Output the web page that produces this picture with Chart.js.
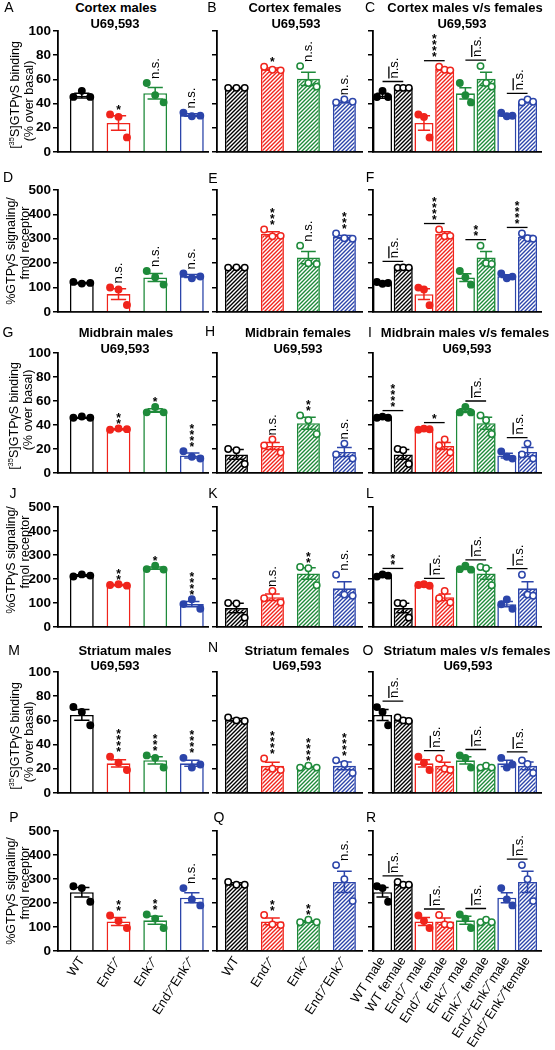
<!DOCTYPE html>
<html lang="en">
<head>
<meta charset="utf-8">
<script src="https://cdn.jsdelivr.net/npm/chart.js@4.4.1/dist/chart.umd.min.js"></script>
<style>
  body { margin: 0; background: #fff; }
  #fig { position: relative; width: 555px; height: 1050px; overflow: hidden;
         font-family: "Liberation Sans", Arial, sans-serif; color: #000; }
  #fig canvas { position: absolute; }
  .lbl { position: absolute; white-space: nowrap; line-height: 1; transform: translate(-50%, -50%); }
  .ttl { font-size: 13px; font-weight: bold; }
  .let { font-size: 14px; }
  .ytl { font-size: 12.5px; transform: translate(-50%, -50%) rotate(-90deg); }
  .ytl sup { font-size: 7.5px; }
</style>
</head>
<body>
<div id="fig"></div>
<script>
// categories
const genotypes = ['WT', 'End⁻⁄⁻', 'Enk⁻⁄⁻', 'End⁻⁄⁻Enk⁻⁄⁻'];
const sexLabels = ['WT male', 'WT female', 'End⁻⁄⁻ male', 'End⁻⁄⁻ female',
                   'Enk⁻⁄⁻ male', 'Enk⁻⁄⁻ female', 'End⁻⁄⁻Enk⁻⁄⁻male', 'End⁻⁄⁻Enk⁻⁄⁻female'];
const colours = ['#000000', '#f0241c', '#1e8a3a', '#2c45aa'];

// y tick labels
const bindTicks = [0, 20, 40, 60, 80, 100];
const signalTicks = [0, 100, 200, 300, 400, 500];

// cortex, [35S]GTPyS binding
const cortexBindMaleMean = [46.5, 24, 48.5, 30.5];
const cortexBindMaleSem = [2, 6, 4.7, 1];
const cortexBindMalePts = [[45.5, 50.5, 45.5], [31, 29, 12], [57, 47, 41], [32.5, 29.5, 30]];
const cortexBindFemaleMean = [53, 68.5, 60.5, 41.5];
const cortexBindFemaleSem = [0.3, 1, 5.5, 0.7];
const cortexBindFemalePts = [[53, 53, 53], [70.5, 68, 67.5], [71, 57, 54], [41, 43.5, 41.5]];
const cortexBindMaleSig = ['', '*', 'n.s.', 'n.s.'];
const cortexBindFemaleSig = ['', '*', 'n.s.', 'n.s.'];
const cortexBindSexSig = ['n.s.', '****', 'n.s.', 'n.s.'];

// cortex, %GTPyS signaling / fmol receptor
const cortexSigMaleMean = [119, 73, 141, 147];
const cortexSigMaleSem = [2, 22, 16, 6];
const cortexSigMalePts = [[123, 116, 119], [100, 92, 28], [168, 142, 112], [158, 138, 145]];
const cortexSigFemaleMean = [182, 320, 223, 308];
const cortexSigFemaleSem = [1, 9, 25, 6];
const cortexSigFemalePts = [[182, 183, 182], [338, 310, 312], [272, 200, 197], [322, 302, 300]];
const cortexSigMaleSig = ['', 'n.s.', 'n.s.', 'n.s.'];
const cortexSigFemaleSig = ['', '***', 'n.s.', '***'];
const cortexSigSexSig = ['n.s.', '****', '**', '****'];

// midbrain, binding
const midBindMaleMean = [46, 36.5, 52, 14.5];
const midBindMaleSem = [0.3, 0.3, 1.5, 2];
const midBindMalePts = [[46, 47, 46], [36, 37, 36.5], [50.5, 55, 50.5], [18, 13.5, 12]];
const midBindFemaleMean = [15.5, 22.5, 41.5, 17.5];
const midBindFemaleSem = [4, 3, 5, 3.8];
const midBindFemalePts = [[20, 19, 7.5], [23, 28, 17], [48, 44, 32.5], [15.5, 24.5, 12]];
const midBindMaleSig = ['', '**', '*', '****'];
const midBindFemaleSig = ['', 'n.s.', '**', 'n.s.'];
const midBindSexSig = ['****', '*', 'n.s.', 'n.s.'];

// midbrain, signaling
const midSigMaleMean = [214, 175, 245, 95];
const midSigMaleSem = [3, 2, 5, 11];
const midSigMalePts = [[210, 219, 214], [175, 178, 172], [241, 255, 239], [95, 115, 76]];
const midSigFemaleMean = [79, 124, 223, 161];
const midSigFemaleSem = [20, 14, 24, 28];
const midSigFemalePts = [[100, 98, 39], [120, 150, 102], [250, 245, 174], [218, 135, 130]];
const midSigMaleSig = ['', '**', '*', '****'];
const midSigFemaleSig = ['', 'n.s.', '**', 'n.s.'];
const midSigSexSig = ['**', 'n.s.', 'n.s.', 'n.s.'];

// striatum, binding
const strBindMaleMean = [64.5, 24.5, 27, 24.5];
const strBindMaleSem = [4.5, 3, 3, 2.5];
const strBindMalePts = [[71, 67, 56], [30, 25, 19], [31, 29, 21], [29, 21, 23.5]];
const strBindFemaleMean = [60.5, 22.5, 21.5, 22.5];
const strBindFemaleSem = [1, 3, 0.5, 3.2];
const strBindFemalePts = [[62.5, 60, 59.5], [28.5, 20, 19], [21, 22.5, 21], [27, 24, 16.5]];
const strBindMaleSig = ['', '****', '***', '****'];
const strBindFemaleSig = ['', '****', '****', '****'];
const strBindSexSig = ['n.s.', 'n.s.', 'n.s.', 'n.s.'];

// striatum, signaling
const strSigMaleMean = [245, 123, 128, 222];
const strSigMaleSem = [20, 17, 17, 21];
const strSigMalePts = [[270, 262, 205], [148, 125, 96], [152, 135, 96], [262, 215, 190]];
const strSigFemaleMean = [280, 123, 123, 288];
const strSigFemaleSem = [4, 14, 3.5, 44];
const strSigFemalePts = [[288, 276, 276], [150, 111, 108], [120, 130, 120], [358, 299, 208]];
const strSigMaleSig = ['', '**', '**', 'n.s.'];
const strSigFemaleSig = ['', '**', '**', 'n.s.'];
const strSigSexSig = ['n.s.', 'n.s.', 'n.s.', 'n.s.'];

const FONT = '"Liberation Sans", Arial, sans-serif';
const fig = document.getElementById('fig');

// panel geometry
const cols = [
  {left: 58, right: 208, xmin: -0.65, xmax: 3.44, barPct: 0.65, jit: 0.23},
  {left: 217, right: 362, xmin: -0.54, xmax: 3.49, barPct: 0.64, jit: 0.23},
  {left: 373, right: 541, xmin: -0.46, xmax: 7.65, barPct: 0.92, jit: 0.27}
];
const AXW = 45, PADT = 14, PADR = 14;

function hatch(colour) {
  const c = document.createElement('canvas');
  c.width = 4; c.height = 4;
  const g = c.getContext('2d');
  g.fillStyle = '#fff'; g.fillRect(0, 0, 4, 4);
  g.strokeStyle = colour; g.lineWidth = 1.4;
  g.beginPath();
  g.moveTo(-1, 5); g.lineTo(5, -1);
  g.moveTo(-1, 1); g.lineTo(1, -1);
  g.moveTo(3, 5); g.lineTo(5, 3);
  g.stroke();
  return g.createPattern(c, 'repeat');
}

function peak(b) { return Math.max(b.mean + b.sem, ...b.pts); }

function drawSig(ctx, s, x, yb) {
  ctx.save();
  ctx.fillStyle = '#000';
  if (s[0] === '*') {
    ctx.font = 'bold 12px ' + FONT;
    ctx.textAlign = 'center';
    ctx.textBaseline = 'alphabetic';
    const m = ctx.measureText('*');
    const dy = (m.actualBoundingBoxAscent - m.actualBoundingBoxDescent) / 2;
    for (let k = 0; k < s.length; k++) ctx.fillText('*', x, yb - 3 - k * 6 + dy);
  } else {
    ctx.font = '13px ' + FONT;
    ctx.translate(x, yb);
    ctx.rotate(-Math.PI / 2);
    ctx.textAlign = 'left';
    ctx.textBaseline = 'alphabetic';
    const m = ctx.measureText(s);
    ctx.fillText(s, 0, (m.actualBoundingBoxAscent - m.actualBoundingBoxDescent) / 2);
  }
  ctx.restore();
}

function marks(bars, sig, paired) {
  return {
    id: 'marks',
    afterDatasetDraw(chart, args) {
      if (args.index !== 0) return;
      const ctx = chart.ctx, y = chart.scales.y;
      args.meta.data.forEach((el, i) => {
        const b = bars[i];
        const hi = y.getPixelForValue(b.mean + b.sem), lo = y.getPixelForValue(b.mean - b.sem);
        const cap = el.width * 0.32;
        ctx.save();
        ctx.strokeStyle = b.colour; ctx.lineWidth = 1.5;
        ctx.beginPath();
        ctx.moveTo(el.x, hi); ctx.lineTo(el.x, lo);
        ctx.moveTo(el.x - cap, hi); ctx.lineTo(el.x + cap, hi);
        ctx.moveTo(el.x - cap, lo); ctx.lineTo(el.x + cap, lo);
        ctx.stroke();
        ctx.restore();
      });
    },
    afterDatasetsDraw(chart) {
      const ctx = chart.ctx, y = chart.scales.y;
      const els = chart.getDatasetMeta(0).data;
      if (!paired) {
        sig.forEach((s, i) => {
          if (s) drawSig(ctx, s, els[i].x, y.getPixelForValue(peak(bars[i])) - 4);
        });
        return;
      }
      sig.forEach((s, p) => {
        const a = 2 * p, c = 2 * p + 1;
        const yl = y.getPixelForValue(Math.max(peak(bars[a]), peak(bars[c]))) - 6;
        const xm = (els[a].x + els[c].x) / 2;
        ctx.save();
        ctx.strokeStyle = '#000'; ctx.lineWidth = 1.3;
        ctx.beginPath();
        ctx.moveTo(els[a].x, yl); ctx.lineTo(els[c].x, yl);
        if (s === 'n.s.') { ctx.moveTo(xm - 4, yl - 3); ctx.lineTo(xm - 4, yl - 15); }
        ctx.stroke();
        ctx.restore();
        drawSig(ctx, s, s === 'n.s.' ? xm + 2 : xm, yl - 3);
      });
    }
  };
}

function makeChart(col, geo, yTicks, bars, labels, sig, paired, showY, showX) {
  const plotW = col.right - col.left, plotH = geo.bottom - geo.top;
  const xh = showX ? 100 : 10;
  const w = AXW + plotW + PADR, h = PADT + plotH + xh;
  const cv = document.createElement('canvas');
  cv.width = w; cv.height = h;
  cv.style.left = (col.left - AXW) + 'px';
  cv.style.top = (geo.top - PADT) + 'px';
  cv.style.width = w + 'px'; cv.style.height = h + 'px';
  fig.appendChild(cv);

  const offs = [-col.jit, 0, col.jit];
  const dots = [], dotFill = [], dotLine = [];
  bars.forEach((b, i) => b.pts.forEach((v, k) => {
    dots.push({x: i + offs[k], y: v});
    dotFill.push(b.female ? '#ffffff' : b.colour);
    dotLine.push(b.colour);
  }));

  new Chart(cv, {
    type: 'bar',
    data: {
      datasets: [{
        type: 'bar',
        data: bars.map((b, i) => ({x: i, y: b.mean})),
        backgroundColor: bars.map(b => b.female ? hatch(b.colour) : '#ffffff'),
        borderColor: bars.map(b => b.colour),
        borderWidth: 1.6,
        barPercentage: col.barPct,
        categoryPercentage: 1,
        order: 2
      }, {
        type: 'line',
        data: dots,
        showLine: false,
        pointRadius: 3.2,
        pointBorderWidth: 1.5,
        pointBackgroundColor: dotFill,
        pointBorderColor: dotLine,
        order: 1
      }]
    },
    options: {
      responsive: false,
      animation: false,
      events: [],
      layout: {padding: {top: PADT, right: PADR, left: 0, bottom: 0}},
      plugins: {legend: {display: false}, tooltip: {enabled: false}},
      scales: {
        x: {
          type: 'linear', offset: false, bounds: 'data', min: col.xmin, max: col.xmax,
          afterBuildTicks: s => { s.ticks = labels.map((_, i) => ({value: i})); },
          afterFit: s => { s.height = xh; },
          ticks: {display: showX, autoSkip: false, minRotation: 57, maxRotation: 57,
                  callback: (v, i) => labels[i], color: '#000',
                  font: {family: FONT, size: 13}, padding: 3},
          grid: {display: false, drawTicks: false, offset: false},
          border: {color: '#000', width: 1.8}
        },
        y: {
          type: 'linear', bounds: 'data', min: 0, max: yTicks[yTicks.length - 1],
          afterBuildTicks: s => { s.ticks = yTicks.map(v => ({value: v})); },
          afterFit: s => { s.width = AXW; },
          ticks: {display: showY, color: '#000', padding: 2,
                  font: {family: FONT, size: 13.5, weight: 'bold'}},
          grid: {drawOnChartArea: false, color: '#000', lineWidth: 1.5, tickLength: 5},
          border: {color: '#000', width: 1.8}
        }
      }
    },
    plugins: [marks(bars, sig, paired)]
  });
}

const bindTitle = ['[<sup>35</sup>S]GTPγS binding', '(% over basal)'];
const sigTitle = ['%GTPγS signaling/', 'fmol receptor'];

const rows = [
  {top: 31, bottom: 152, ticks: bindTicks, mm: cortexBindMaleMean, ms: cortexBindMaleSem, mp: cortexBindMalePts,
   fm: cortexBindFemaleMean, fs: cortexBindFemaleSem, fp: cortexBindFemalePts,
   msig: cortexBindMaleSig, fsig: cortexBindFemaleSig, ssig: cortexBindSexSig,
   ytitle: bindTitle, yt: [[15, 95], [29, 101]]},
  {top: 190, bottom: 312, ticks: signalTicks, mm: cortexSigMaleMean, ms: cortexSigMaleSem, mp: cortexSigMalePts,
   fm: cortexSigFemaleMean, fs: cortexSigFemaleSem, fp: cortexSigFemalePts,
   msig: cortexSigMaleSig, fsig: cortexSigFemaleSig, ssig: cortexSigSexSig,
   ytitle: sigTitle, yt: [[11, 251], [25, 243]]},
  {top: 353, bottom: 473, ticks: bindTicks, mm: midBindMaleMean, ms: midBindMaleSem, mp: midBindMalePts,
   fm: midBindFemaleMean, fs: midBindFemaleSem, fp: midBindFemalePts,
   msig: midBindMaleSig, fsig: midBindFemaleSig, ssig: midBindSexSig,
   ytitle: bindTitle, yt: [[14, 416], [28, 410]]},
  {top: 507, bottom: 627, ticks: signalTicks, mm: midSigMaleMean, ms: midSigMaleSem, mp: midSigMalePts,
   fm: midSigFemaleMean, fs: midSigFemaleSem, fp: midSigFemalePts,
   msig: midSigMaleSig, fsig: midSigFemaleSig, ssig: midSigSexSig,
   ytitle: sigTitle, yt: [[11, 560], [25, 552]]},
  {top: 672, bottom: 793, ticks: bindTicks, mm: strBindMaleMean, ms: strBindMaleSem, mp: strBindMalePts,
   fm: strBindFemaleMean, fs: strBindFemaleSem, fp: strBindFemalePts,
   msig: strBindMaleSig, fsig: strBindFemaleSig, ssig: strBindSexSig,
   ytitle: bindTitle, yt: [[15, 736], [29, 742]]},
  {top: 831, bottom: 951, ticks: signalTicks, mm: strSigMaleMean, ms: strSigMaleSem, mp: strSigMalePts,
   fm: strSigFemaleMean, fs: strSigFemaleSem, fp: strSigFemalePts,
   msig: strSigMaleSig, fsig: strSigFemaleSig, ssig: strSigSexSig,
   ytitle: sigTitle, yt: [[11, 891], [25, 883]]}
];

function addText(html, cx, cy, cls) {
  const d = document.createElement('div');
  d.className = 'lbl ' + cls;
  d.innerHTML = html;
  d.style.left = cx + 'px';
  d.style.top = cy + 'px';
  fig.appendChild(d);
}

rows.forEach((r, ri) => {
  const last = ri === rows.length - 1;
  const male = r.mm.map((m, i) => ({mean: m, sem: r.ms[i], pts: r.mp[i], colour: colours[i], female: false}));
  const female = r.fm.map((m, i) => ({mean: m, sem: r.fs[i], pts: r.fp[i], colour: colours[i], female: true}));
  const both = [];
  male.forEach((b, i) => both.push(b, female[i]));
  makeChart(cols[0], r, r.ticks, male, genotypes, r.msig, false, true, last);
  makeChart(cols[1], r, r.ticks, female, genotypes, r.fsig, false, false, last);
  makeChart(cols[2], r, r.ticks, both, sexLabels, r.ssig, true, false, last);
  addText(r.ytitle[0], r.yt[0][0], r.yt[0][1], 'ytl');
  addText(r.ytitle[1], r.yt[1][0], r.yt[1][1], 'ytl');
});

// panel letters
[['A', 9, 7], ['B', 212, 7], ['C', 370, 7],
 ['D', 8, 177], ['E', 213, 178], ['F', 370, 177],
 ['G', 8, 332], ['H', 210, 331], ['I', 370, 332],
 ['J', 13, 493], ['K', 213, 493], ['L', 370, 493],
 ['M', 14, 650], ['N', 213, 647], ['O', 368, 650],
 ['P', 14, 817], ['Q', 219, 817], ['R', 371, 817]].forEach(t => addText(t[0], t[1], t[2], 'let'));

// panel titles
[['Cortex males', 116, 7], ['U69,593', 115, 23],
 ['Cortex females', 295, 7], ['U69,593', 296, 23],
 ['Cortex males v/s females', 465, 7], ['U69,593', 462, 23],
 ['Midbrain males', 126, 332], ['U69,593', 125, 348],
 ['Midbrain females', 298, 332], ['U69,593', 298, 348],
 ['Midbrain males v/s females', 465, 332], ['U69,593', 467, 348],
 ['Striatum males', 125, 650], ['U69,593', 115, 665],
 ['Striatum females', 297, 650], ['U69,593', 297, 665],
 ['Striatum males v/s females', 467, 650], ['U69,593', 468, 665]].forEach(t => addText(t[0], t[1], t[2], 'ttl'));
</script>
</body>
</html>
